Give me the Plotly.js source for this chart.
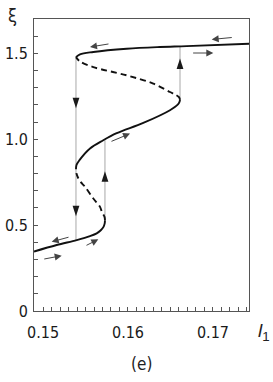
<!DOCTYPE html>
<html>
<head>
<meta charset="utf-8">
<script src="https://cdn.plot.ly/plotly-3.0.1.min.js"></script>
<style>html,body{margin:0;padding:0;background:#fff;}#chart{width:273px;height:382px;}</style>
</head>
<body>
<div id="chart"></div>
<script>
// ---- data (l1, xi) ----
// lower stable branch
const lowL  = [0.14894, 0.15161, 0.15397, 0.15553, 0.15632, 0.15680, 0.15712, 0.15726, 0.15729];
const lowXi = [0.346, 0.384, 0.413, 0.436, 0.452, 0.470, 0.490, 0.510, 0.529];
// lower unstable (dashed) branch
const lowDashL  = [0.15729, 0.15724, 0.15694, 0.15671, 0.15592, 0.15494, 0.15445, 0.15415, 0.15394, 0.15388];
const lowDashXi = [0.529, 0.548, 0.575, 0.606, 0.655, 0.723, 0.750, 0.773, 0.800, 0.825];
// middle stable branch
const midL  = [0.15388, 0.15394, 0.15429, 0.15553, 0.15709, 0.15867, 0.16180, 0.16494, 0.16588, 0.16606, 0.16612];
const midXi = [0.825, 0.850, 0.878, 0.946, 0.994, 1.035, 1.095, 1.169, 1.203, 1.217, 1.230];
// upper unstable (dashed) branch
const upDashL  = [0.16612, 0.16600, 0.16565, 0.16494, 0.16298, 0.15985, 0.15592, 0.15435, 0.15388];
const upDashXi = [1.230, 1.245, 1.258, 1.275, 1.324, 1.372, 1.420, 1.453, 1.478];
// upper stable branch
const upL  = [0.15388, 0.15435, 0.15592, 0.15985, 0.16376, 0.16691, 0.17424];
const upXi = [1.478, 1.494, 1.508, 1.527, 1.537, 1.542, 1.556];
// jumps (vertical transitions)
const jumpL    = [0.15388, 0.15729, 0.16612];
const jumpFrom = [1.478, 0.529, 1.230];
const jumpTo   = [0.413, 0.994, 1.540];
// arrow heads on jumps (tip positions)
const headL   = [0.15388, 0.15388, 0.15729, 0.16612];
const headXi  = [1.18, 0.552, 0.814, 1.47];
const headDir = ['down', 'down', 'up', 'up'];
// small direction arrows: tip and tail
const dirTipL   = [0.15553, 0.16985, 0.17004, 0.16024, 0.15102, 0.15651, 0.15220];
const dirTipXi  = [1.537, 1.581, 1.502, 1.033, 0.403, 0.417, 0.322];
const dirTailL  = [0.15788, 0.17239, 0.16749, 0.15788, 0.15318, 0.15494, 0.14997];
const dirTailXi = [1.556, 1.593, 1.502, 0.984, 0.432, 0.378, 0.301];
// ticks
const xTickVals = [0.15, 0.16, 0.17];
const xTickText = ['0.15', '0.16', '0.17'];
const yTickVals = [0, 0.5, 1.0, 1.5];
const yTickText = ['0', '0.5', '1.0', '1.5'];

const FONT = '"Liberation Sans Narrow", "DejaVu Sans Condensed", "Liberation Sans", sans-serif';

const traces = [];
for (let i = 0; i < jumpL.length; i++) {
  traces.push({x: [jumpL[i], jumpL[i]], y: [jumpFrom[i], jumpTo[i]], mode: 'lines',
    line: {color: '#a8a8a8', width: 1}, hoverinfo: 'skip'});
}
const solid = {color: '#111', width: 1.9, shape: 'spline', smoothing: 1};
const dashed = {color: '#111', width: 1.9, shape: 'spline', smoothing: 1, dash: '6px,4px'};
traces.push({x: lowL, y: lowXi, mode: 'lines', line: solid});
traces.push({x: lowDashL, y: lowDashXi, mode: 'lines', line: dashed});
traces.push({x: midL, y: midXi, mode: 'lines', line: solid});
traces.push({x: upDashL, y: upDashXi, mode: 'lines', line: dashed});
traces.push({x: upL, y: upXi, mode: 'lines', line: solid});
traces.push({x: headL, y: headXi, mode: 'markers',
  marker: {symbol: 'arrow', size: 11, color: '#1a1a1a',
    angle: headDir.map(d => d === 'down' ? 180 : 0), line: {width: 0}}});

const annotations = [];
for (let i = 0; i < dirTipL.length; i++) {
  annotations.push({x: dirTipL[i], y: dirTipXi[i], ax: dirTailL[i], ay: dirTailXi[i],
    xref: 'x', yref: 'y', axref: 'x', ayref: 'y', text: '', showarrow: true,
    arrowhead: 2, arrowsize: 1.4, arrowwidth: 1, arrowcolor: '#444', standoff: 0});
}
annotations.push({xref: 'paper', yref: 'paper', x: -0.1, y: 1.012, text: 'ξ', showarrow: false,
  xanchor: 'center', yanchor: 'middle', font: {family: '"DejaVu Sans Condensed", "Liberation Sans", sans-serif', size: 18, color: '#222'}});
annotations.push({xref: 'paper', yref: 'paper', x: 1.07, y: -0.072, text: '<i>l</i><sub>1</sub>', showarrow: false,
  xanchor: 'center', yanchor: 'middle', font: {family: '"Liberation Sans", sans-serif', size: 19, color: '#222'}});
annotations.push({xref: 'paper', yref: 'paper', x: 0.5, y: -0.18, text: '(e)', showarrow: false,
  xanchor: 'center', yanchor: 'middle', font: {family: FONT, size: 17, color: '#222'}});

const layout = {
  width: 273, height: 382,
  margin: {l: 34, r: 24, t: 19, b: 71},
  paper_bgcolor: '#fff', plot_bgcolor: '#fff',
  showlegend: false,
  font: {family: FONT, size: 16, color: '#1a1a1a'},
  xaxis: {range: [0.14894, 0.17424], tickmode: 'array', tickvals: xTickVals, ticktext: xTickText,
    ticks: 'inside', ticklen: 4, tickcolor: '#555', tickwidth: 1,
    minor: {dtick: 0.001, tick0: 0.15, ticks: 'inside', ticklen: 4, tickcolor: '#555', showgrid: false},
    showline: true, mirror: true, linecolor: '#555', linewidth: 1,
    showgrid: false, zeroline: false, ticklabelstandoff: 7},
  yaxis: {range: [0, 1.7], tickmode: 'array', tickvals: yTickVals, ticktext: yTickText,
    ticks: 'inside', ticklen: 4, tickcolor: '#555', tickwidth: 1,
    minor: {dtick: 0.1, tick0: 0, ticks: 'inside', ticklen: 4, tickcolor: '#555', showgrid: false},
    showline: true, mirror: true, linecolor: '#555', linewidth: 1,
    showgrid: false, zeroline: false, ticklabelstandoff: 2},
  annotations: annotations
};
Plotly.newPlot('chart', traces, layout, {displayModeBar: false, staticPlot: true});
</script>
</body>
</html>
